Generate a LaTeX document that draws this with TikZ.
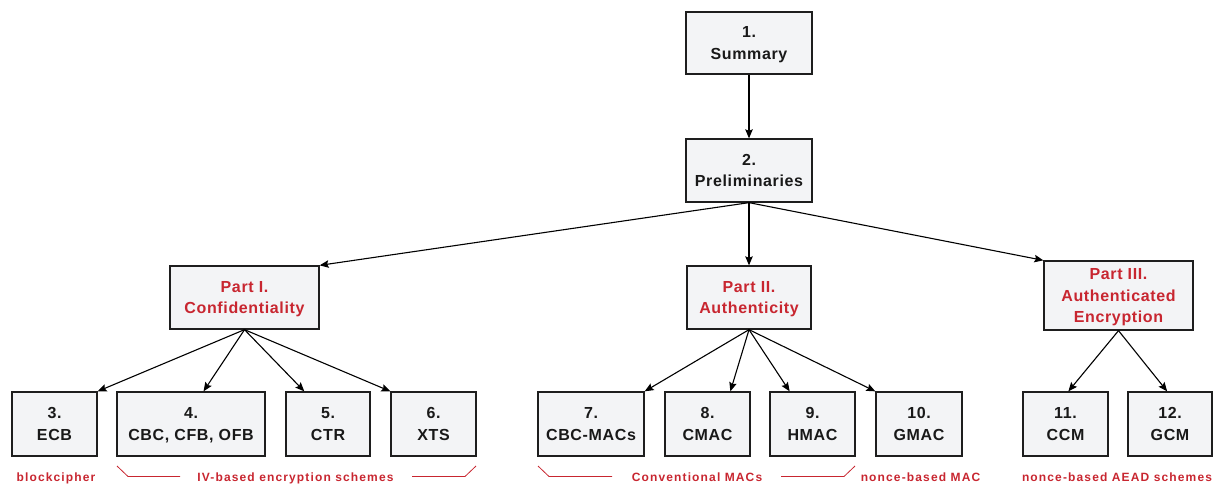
\documentclass[tikz,border=0pt]{standalone}
\usepackage{fontspec}
\setmainfont{Liberation Sans}
\newfontfamily\boxfont{Liberation Sans}[LetterSpace=4]
\newfontfamily\notefont{Liberation Sans}[LetterSpace=9.5]
\usetikzlibrary{arrows.meta,calc}
\definecolor{partred}{RGB}{200,38,48}
\definecolor{boxfill}{RGB}{243,244,246}
\definecolor{boxline}{RGB}{30,30,30}
\begin{document}
\begin{tikzpicture}[x=1pt,y=-1pt,
  chap/.style={draw=boxline, line width=1.3pt, fill=boxfill, align=center,
    inner sep=0pt, text=black!90, text depth=0pt,
    font=\boxfont\bfseries\fontsize{16}{21.5}\selectfont},
  part/.style={chap, text=partred},
  link/.style={line width=1.1pt, -{Stealth[length=9pt,width=7.5pt,inset=1.5pt]}},
  note/.style={font=\notefont\bfseries\fontsize{12}{14}\selectfont,
    text=partred, anchor=base, inner sep=0pt},
  bracket/.style={draw=partred, line width=0.8pt}]
\useasboundingbox (0,0) rectangle (1214,484);

% chapter overview
\node[chap, minimum width=126pt, minimum height=62pt] (s1) at (749,43) {1.\\Summary};
\node[chap, minimum width=126pt, minimum height=63pt] (s2) at (749,170.5) {2.\\Preliminaries};

% the three parts
\node[part, minimum width=149pt, minimum height=63pt] (p1) at (244.5,297.5) {Part I.\\Confidentiality};
\node[part, minimum width=124pt, minimum height=63pt] (p2) at (749,297.5) {Part II.\\Authenticity};
\node[part, minimum width=149pt, minimum height=69pt] (p3) at (1118.5,295.5) {Part III.\\Authenticated\\Encryption};

% individual modes
\node[chap, minimum width=85pt,  minimum height=64pt] (b3)  at (54.5,424)  {3.\\ECB};
\node[chap, minimum width=148pt, minimum height=64pt] (b4)  at (191,424)   {4.\\CBC, CFB, OFB};
\node[chap, minimum width=84pt,  minimum height=64pt] (b5)  at (328,424)   {5.\\CTR};
\node[chap, minimum width=85pt,  minimum height=64pt] (b6)  at (433.5,424) {6.\\XTS};
\node[chap, minimum width=106pt, minimum height=64pt] (b7)  at (591,424)   {7.\\CBC-MACs};
\node[chap, minimum width=85pt,  minimum height=64pt] (b8)  at (707.5,424) {8.\\CMAC};
\node[chap, minimum width=85pt,  minimum height=64pt] (b9)  at (812.5,424) {9.\\HMAC};
\node[chap, minimum width=86pt,  minimum height=64pt] (b10) at (919,424)   {10.\\GMAC};
\node[chap, minimum width=85pt,  minimum height=64pt] (b11) at (1065.5,424){11.\\CCM};
\node[chap, minimum width=84pt,  minimum height=64pt] (b12) at (1170,424)  {12.\\GCM};

% connectors
\draw[link] (s1) -- (s2);
\draw[link] (s2.south) -- (p1.north east);
\draw[link] (s2.south) -- (p2.north);
\draw[link] (s2.south) -- (p3.north west);

\draw[link] (p1.south) -- (b3.north east);
\draw[link] (p1.south) -- (b4.69);
\draw[link] (p1.south) -- (b5.126);
\draw[link] (p1.south) -- (b6.north west);

\draw[link] (p2.south) -- (b7.north east);
\draw[link] (p2.south) -- (b8.55);
\draw[link] (p2.south) -- (b9.125);
\draw[link] (p2.south) -- (b10.north west);

\draw[link] (p3.south) -- (b11.85);
\draw[link] (p3.south) -- (b12.95);

% group labels
\node[note] (n1) at (56,481)    {blockcipher};
\node[note] (n2) at (295.5,481) {IV-based encryption schemes};
\node[note] (n3) at (697,481)   {Conventional MACs};
\node[note] (n4) at (920.5,481) {nonce-based MAC};
\node[note] (n5) at (1117,481)  {nonce-based AEAD schemes};

% brackets of the grouped labels
\coordinate (g1a) at (117,466);
\coordinate (g1b) at (476,466);
\coordinate (g2a) at (538,466);
\coordinate (g2b) at (855,466);
\draw[bracket] (g1a) -- ++(11,10.5) -- (180,476.5);
\draw[bracket] (412,476.5) -- (465,476.5) -- (g1b);
\draw[bracket] (g2a) -- ++(11,10.5) -- (612,476.5);
\draw[bracket] (781,476.5) -- (844,476.5) -- (g2b);
\end{tikzpicture}
\end{document}
